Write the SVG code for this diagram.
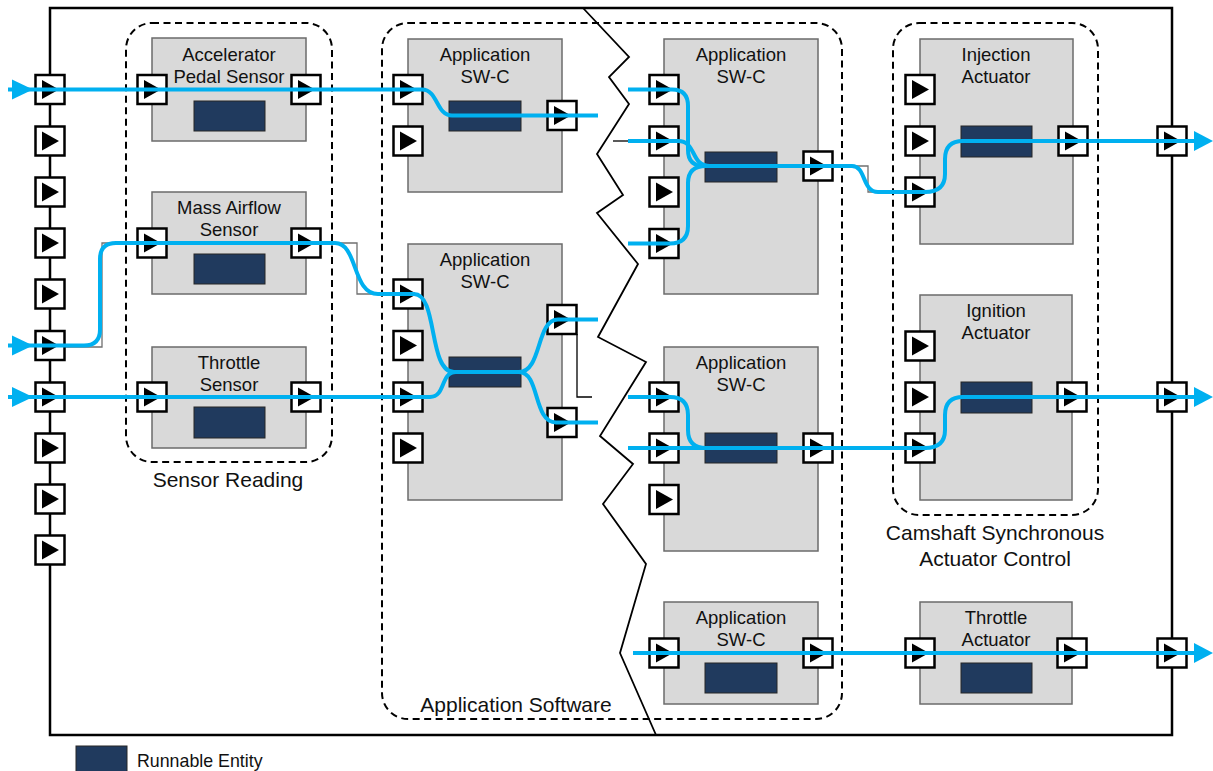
<svg xmlns="http://www.w3.org/2000/svg" xmlns:xlink="http://www.w3.org/1999/xlink" width="1213" height="771" viewBox="0 0 1213 771">
<style>
.frame{fill:none;stroke:#000;stroke-width:2.5}
.zig{fill:none;stroke:#000;stroke-width:1.8;stroke-linejoin:miter}
.grp{fill:none;stroke:#000;stroke-width:2;stroke-dasharray:7 4.5}
.box{fill:#d9d9d9;stroke:#6b6b6b;stroke-width:1.5}
.run{fill:#203a5e;stroke:#262626;stroke-width:1}
.lbl{font-family:"Liberation Sans",Arial,sans-serif;font-size:18.5px;fill:#111;text-anchor:middle}
.glbl{font-family:"Liberation Sans",Arial,sans-serif;font-size:21px;fill:#111;text-anchor:middle}
.leg{font-family:"Liberation Sans",Arial,sans-serif;font-size:17.8px;fill:#111}
.flow{fill:none;stroke:#00b0f0;stroke-width:4;stroke-linejoin:round}
.thin{fill:none;stroke:#707070;stroke-width:1.3}
.thinb{fill:none;stroke:#000;stroke-width:1.3}
.ah{fill:#00b0f0}
</style>
<defs>
<g id="port"><rect x="-14.5" y="-14.5" width="29" height="29" fill="#fff" stroke="#000" stroke-width="2.5"/><polygon points="-8,-9.5 9,0 -8,9.5" fill="#000"/></g>
</defs>
<rect width="1213" height="771" fill="#fff"/>
<g id="ecu-frame">
<rect class="frame" x="50" y="8" width="1122" height="727"/>
<polyline class="zig" points="583,8 629,57 609,77 629,104 597,154 623,195 597,213 638,264 598,337 646,362 600,436 633,464 603,504 646,564 620,653 656,735"/>
</g>
<g id="group-sensor-reading">
<rect class="grp" x="126" y="23" width="206" height="439" rx="26"/>
<text class="glbl" x="228" y="487">Sensor Reading</text>
</g>
<g id="group-application-software">
<rect class="grp" x="382" y="23" width="460" height="696" rx="26"/>
<text class="glbl" x="516" y="712">Application Software</text>
</g>
<g id="group-camshaft">
<rect class="grp" x="893" y="23" width="205" height="492" rx="26"/>
<text class="glbl" x="995" y="540">Camshaft Synchronous</text>
<text class="glbl" x="995" y="566">Actuator Control</text>
</g>
<g id="thin-connectors">
<polyline class="thin" points="65,347 102,347 102,243 137,243"/>
<polyline class="thin" points="322,243 357,243 357,294 393,294"/>
<polyline class="thinb" points="577,334 577,397 592,397"/>
<line class="thinb" x1="613" y1="141" x2="630" y2="141"/>
<polyline class="thin" points="834,166 868,166 868,192 905,192"/>
</g>
<g id="node-accelerator-pedal-sensor">
<rect class="box" x="152" y="38" width="154" height="103"/>
<text class="lbl" x="229" y="61">Accelerator</text><text class="lbl" x="229" y="83">Pedal Sensor</text>
<rect class="run" x="194" y="101" width="71" height="30"/>
<use xlink:href="#port" x="152" y="89.5"/><use xlink:href="#port" x="306" y="89.5"/>
</g>
<g id="node-mass-airflow-sensor">
<rect class="box" x="152" y="192" width="154" height="102"/>
<text class="lbl" x="229" y="214">Mass Airflow</text><text class="lbl" x="229" y="236">Sensor</text>
<rect class="run" x="194" y="254" width="71" height="30"/>
<use xlink:href="#port" x="152" y="243"/><use xlink:href="#port" x="306" y="243"/>
</g>
<g id="node-throttle-sensor">
<rect class="box" x="152" y="347" width="154" height="101"/>
<text class="lbl" x="229" y="369">Throttle</text><text class="lbl" x="229" y="391">Sensor</text>
<rect class="run" x="194" y="407" width="71" height="31"/>
<use xlink:href="#port" x="152" y="397"/><use xlink:href="#port" x="306" y="397"/>
</g>
<g id="node-app-swc-1">
<rect class="box" x="408" y="39" width="154" height="153"/>
<text class="lbl" x="485" y="61">Application</text><text class="lbl" x="485" y="83">SW-C</text>
<rect class="run" x="449" y="101" width="72" height="30"/>
<use xlink:href="#port" x="408" y="89.5"/><use xlink:href="#port" x="408" y="141"/><use xlink:href="#port" x="562" y="115.5"/>
</g>
<g id="node-app-swc-2">
<rect class="box" x="408" y="244" width="154" height="256"/>
<text class="lbl" x="485" y="266">Application</text><text class="lbl" x="485" y="288">SW-C</text>
<rect class="run" x="449" y="357" width="72" height="30"/>
<use xlink:href="#port" x="408" y="294"/><use xlink:href="#port" x="408" y="345.5"/><use xlink:href="#port" x="408" y="397"/><use xlink:href="#port" x="408" y="448"/>
<use xlink:href="#port" x="562" y="319.5"/><use xlink:href="#port" x="562" y="422.5"/>
</g>
<g id="node-app-swc-3">
<rect class="box" x="664" y="39" width="154" height="255"/>
<text class="lbl" x="741" y="61">Application</text><text class="lbl" x="741" y="83">SW-C</text>
<rect class="run" x="705" y="152" width="72" height="30"/>
<use xlink:href="#port" x="664" y="89.5"/><use xlink:href="#port" x="664" y="141"/><use xlink:href="#port" x="664" y="192"/><use xlink:href="#port" x="664" y="243.5"/>
<use xlink:href="#port" x="818" y="166"/>
</g>
<g id="node-app-swc-4">
<rect class="box" x="664" y="347" width="154" height="204"/>
<text class="lbl" x="741" y="369">Application</text><text class="lbl" x="741" y="391">SW-C</text>
<rect class="run" x="705" y="433" width="72" height="30"/>
<use xlink:href="#port" x="664" y="397"/><use xlink:href="#port" x="664" y="448"/><use xlink:href="#port" x="664" y="499.5"/>
<use xlink:href="#port" x="818" y="448"/>
</g>
<g id="node-app-swc-5">
<rect class="box" x="664" y="602" width="154" height="102"/>
<text class="lbl" x="741" y="624">Application</text><text class="lbl" x="741" y="646">SW-C</text>
<rect class="run" x="705" y="663" width="72" height="30"/>
<use xlink:href="#port" x="664" y="653"/><use xlink:href="#port" x="818" y="653"/>
</g>
<g id="node-injection-actuator">
<rect class="box" x="920" y="39" width="153" height="205"/>
<text class="lbl" x="996" y="61">Injection</text><text class="lbl" x="996" y="83">Actuator</text>
<rect class="run" x="961" y="126" width="71" height="31"/>
<use xlink:href="#port" x="920" y="89.5"/><use xlink:href="#port" x="920" y="141"/><use xlink:href="#port" x="920" y="192"/>
<use xlink:href="#port" x="1073" y="141"/>
</g>
<g id="node-ignition-actuator">
<rect class="box" x="920" y="295" width="152" height="205"/>
<text class="lbl" x="996" y="317">Ignition</text><text class="lbl" x="996" y="339">Actuator</text>
<rect class="run" x="961" y="382" width="71" height="31"/>
<use xlink:href="#port" x="920" y="346"/><use xlink:href="#port" x="920" y="397"/><use xlink:href="#port" x="920" y="448"/>
<use xlink:href="#port" x="1072" y="397"/>
</g>
<g id="node-throttle-actuator">
<rect class="box" x="920" y="602" width="152" height="102"/>
<text class="lbl" x="996" y="624">Throttle</text><text class="lbl" x="996" y="646">Actuator</text>
<rect class="run" x="961" y="663" width="71" height="30"/>
<use xlink:href="#port" x="920" y="653"/><use xlink:href="#port" x="1072" y="653"/>
</g>
<g id="ecu-ports">
<use xlink:href="#port" x="50" y="89.5"/><use xlink:href="#port" x="50" y="141"/><use xlink:href="#port" x="50" y="192"/><use xlink:href="#port" x="50" y="243"/><use xlink:href="#port" x="50" y="294"/>
<use xlink:href="#port" x="50" y="345.5"/><use xlink:href="#port" x="50" y="397"/><use xlink:href="#port" x="50" y="448"/><use xlink:href="#port" x="50" y="499"/><use xlink:href="#port" x="50" y="550"/>
<use xlink:href="#port" x="1172" y="141"/><use xlink:href="#port" x="1172" y="397"/><use xlink:href="#port" x="1172" y="653"/>
</g>
<g id="connectors">
<path class="flow" d="M8,89.5 H422 C438,89.5 436,115.5 452,115.5 H598"/>
<path class="flow" d="M8,345.5 H84 Q100,345.5 100,329.5 V259 Q100,243 116,243 H335 C358,243 352,294 378,294 H414 C438,294 428,372 454,372 H521"/>
<path class="flow" d="M8,397 H430 C446,397 440,372 456,372 H521"/>
<path class="flow" d="M519,372 C542,372 536,319.5 558,319.5 H598"/>
<path class="flow" d="M519,372 C540,372 533,422.5 556,422.5 H598"/>
<path class="flow" d="M628,89.5 H672 Q688,89.5 688,106 V150 Q688,166 704,166 H852 C866,166 862,192 878,192 H925 Q945,192 945,174 V159 Q945,141 963,141 H1196"/>
<path class="flow" d="M628,141 H678 C697,141 690,166 710,166"/>
<path class="flow" d="M628,243.5 H670 Q688,243.5 688,226 V183 Q688,166 706,166"/>
<path class="flow" d="M628,397 H670 Q688,397 688,415 V430 Q688,448 706,448"/>
<path class="flow" d="M628,448 H925 Q945,448 945,430 V415 Q945,397 963,397 H1196"/>
<path class="flow" d="M633,653 H1196"/>
<polygon class="ah" points="12,79.5 33,89.5 12,99.5"/>
<polygon class="ah" points="12,335.5 33,345.5 12,355.5"/>
<polygon class="ah" points="12,387 33,397 12,407"/>
<polygon class="ah" points="1194,131 1213,141 1194,151"/>
<polygon class="ah" points="1194,387 1213,397 1194,407"/>
<polygon class="ah" points="1194,643 1213,653 1194,663"/>
</g>
<g id="legend">
<rect class="run" x="76" y="746" width="51" height="30"/>
<text class="leg" x="137" y="767">Runnable Entity</text>
</g>
</svg>
